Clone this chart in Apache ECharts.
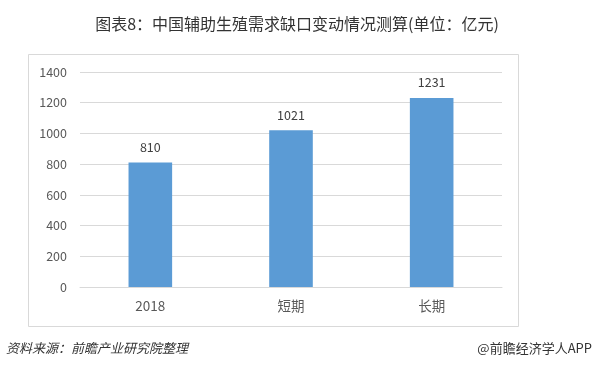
<!DOCTYPE html>
<html><head><meta charset="utf-8">
<script src="https://cdn.jsdelivr.net/npm/echarts@6/dist/echarts.min.js"></script>
<style>html,body{margin:0;padding:0;background:#fff}#c{width:594px;height:372px}</style>
</head><body><div id="c"></div>
<script>
var categories = ['2018', '短期', '长期'];
var values = [810, 1021, 1231];
var yTicks = [0, 200, 400, 600, 800, 1000, 1200, 1400];
var titleText = '图表8：中国辅助生殖需求缺口变动情况测算(单位：亿元)';
var sourceText = '资料来源：前瞻产业研究院整理';
var brandText = '@前瞻经济学人APP';

var chart = echarts.init(document.getElementById('c'), null, {renderer: 'canvas'});
chart.setOption({
  animation: false,
  backgroundColor: '#fff',
  title: {
    text: titleText, left: 'center', top: 11,
    textStyle: {fontSize: 16, fontWeight: 'normal', color: '#333', fontFamily: 'Noto Sans CJK SC'}
  },
  graphic: [
    {type: 'rect', shape: {x: 28.5, y: 54.5, width: 490, height: 272}, style: {fill: 'none', stroke: '#d9d9d9', lineWidth: 1}, z: -1},
    {type: 'text', left: 6, top: 342, style: {text: sourceText, fontSize: 13, fontStyle: 'italic', fill: '#333', fontFamily: 'Noto Sans CJK SC'}},
    {type: 'text', right: 2, top: 342, style: {text: brandText, fontSize: 13, fill: '#333', fontFamily: 'Noto Sans CJK SC'}}
  ],
  grid: {left: 80, right: 92, top: 72, bottom: 85, containLabel: false},
  xAxis: {
    type: 'category', data: categories,
    axisLine: {lineStyle: {color: '#d9d9d9'}},
    axisTick: {show: false},
    axisLabel: {color: '#595959', fontSize: 13.5, margin: 12, fontFamily: 'Noto Sans CJK SC'}
  },
  yAxis: {
    type: 'value', min: yTicks[0], max: yTicks[yTicks.length - 1], interval: 200,
    axisLine: {show: false}, axisTick: {show: false},
    splitLine: {lineStyle: {color: '#d9d9d9'}},
    axisLabel: {color: '#595959', fontSize: 12.5, margin: 13, fontFamily: 'Noto Sans CJK SC',
      formatter: function (v) { return String(v); }}
  },
  series: [{
    type: 'bar', data: values, barWidth: '31%',
    itemStyle: {color: '#5B9BD5'},
    label: {show: true, position: 'top', distance: 9, color: '#404040', fontSize: 12.5, fontFamily: 'Noto Sans CJK SC'}
  }]
});
</script></body></html>
